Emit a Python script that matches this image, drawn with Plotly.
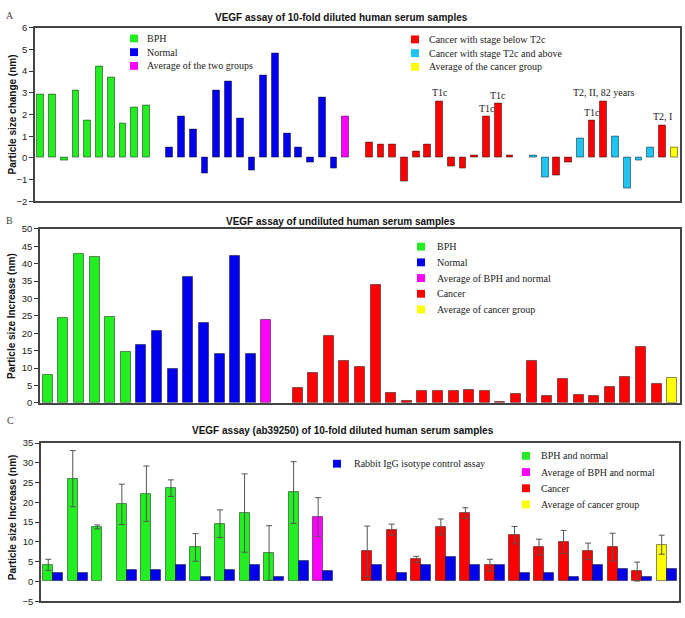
import plotly.graph_objects as go

W, H = 685, 618

# ---------------- Panel A data ----------------
a_bph = [2.9, 2.9, -0.1, 3.1, 1.7, 4.2, 3.7, 1.6, 2.3, 2.4]
a_normal = [0.5, 1.9, 1.3, -0.7, 3.1, 3.5, 1.8, -0.6, 3.8, 4.8, 1.1, 0.5, -0.2, 2.8, -0.5]
a_avg_two_groups = 1.9
a_cancer_1 = [0.7, 0.6, 0.6, -1.1, 0.3, 0.6, 2.6, -0.4, -0.5, 0.1, 1.9, 2.5, 0.1]
a_cancer_1_stage = ["low"] * 13
a_cancer_1_note = ["", "", "", "", "", "", "T1c", "", "", "", "T1c", "T1c", ""]
a_cancer_2 = [0.1, -0.9, -0.8, -0.2, 0.9, 1.7, 2.6, 1.0, -1.4, -0.1, 0.5, 1.5]
a_cancer_2_stage = ["high", "high", "low", "low", "high", "low", "low", "high", "high", "high", "high", "low"]
a_cancer_2_note = ["", "", "", "", "", "T1c", "T2, II, 82 years", "", "", "", "", "T2, I"]
a_avg_cancer = 0.5

# ---------------- Panel B data ----------------
b_bph = [8.1, 24.4, 42.9, 41.9, 24.7, 14.7]
b_normal = [16.5, 20.6, 9.6, 36.1, 22.9, 14.1, 42.1, 14.0]
b_avg_bph_normal = 23.7
b_cancer = [4.2, 8.7, 19.2, 11.9, 10.4, 33.9, 2.8, 0.6, 3.3, 3.3, 3.5, 3.7, 3.4, 0.3,
            2.5, 11.9, 2.0, 6.8, 2.3, 2.0, 4.6, 7.5, 16.1, 5.5]
b_avg_cancer = 7.2

# ---------------- Panel C data ----------------
c_bph_normal = [4.2, 26.0, 13.8, 19.5, 22.2, 23.6, 8.6, 14.6, 17.3, 7.2, 22.5]
c_bph_normal_err = [1.4, 7.1, 0.5, 5.1, 7.0, 2.1, 3.5, 3.5, 9.9, 6.9, 7.8]
c_bph_normal_ctrl = [2.0, 2.0, None, 3.0, 3.0, 4.1, 1.2, 3.0, 4.1, 1.2, 5.1]
c_avg_bph_normal, c_avg_bph_normal_err, c_avg_bph_normal_ctrl = 16.3, 4.9, 2.7
c_cancer = [7.6, 13.1, 5.6, 13.8, 17.3, 4.1, 11.7, 8.7, 10.0, 7.6, 8.7, 2.5]
c_cancer_err = [6.4, 1.4, 0.75, 2.0, 1.35, 1.5, 2.2, 2.0, 2.9, 2.1, 3.5, 2.4]
c_cancer_ctrl = [4.1, 2.2, 4.1, 6.1, 4.1, 4.1, 2.2, 2.2, 1.2, 4.1, 3.1, 1.2]
c_avg_cancer, c_avg_cancer_err, c_avg_cancer_ctrl = 9.3, 2.4, 3.1

COL = {
    "bph": "#22ee22", "normal": "#0000ee", "avg_bn": "#ff00ff",
    "low": "#ff0000", "high": "#1ec4f2", "avg_c": "#ffff00", "ctrl": "#0000ee",
}
EDGE = dict(color="rgba(0,0,0,0.45)", width=1)
SERIF = "Liberation Serif"
SANS = "Arial, Liberation Sans"


def px(x):
    return x / W


def py(y):
    return 1 - y / H


fig = go.Figure()

# ---- Panel A slots ----
a_slots = [(v, "bph", "") for v in a_bph] + [None]
a_slots += [(v, "normal", "") for v in a_normal]
a_slots += [(a_avg_two_groups, "avg_bn", ""), None]
a_slots += list(zip(a_cancer_1, a_cancer_1_stage, a_cancer_1_note)) + [None]
a_slots += list(zip(a_cancer_2, a_cancer_2_stage, a_cancer_2_note))
a_slots += [(a_avg_cancer, "avg_c", "")]

annotations = []
for kind in ["bph", "normal", "avg_bn", "low", "high", "avg_c"]:
    xs = [i for i, s in enumerate(a_slots) if s and s[1] == kind]
    ys = [a_slots[i][0] for i in xs]
    fig.add_trace(go.Bar(x=xs, y=ys, width=0.58, marker=dict(color=COL[kind], line=EDGE),
                         xaxis="x", yaxis="y", showlegend=False))
for i, s in enumerate(a_slots):
    if s and s[2]:
        annotations.append(dict(x=i, y=s[0], xref="x", yref="y", text=s[2], showarrow=False,
                                yanchor="bottom", yshift=1,
                                font=dict(family=SERIF, size=10, color="#222")))

# ---- Panel B slots ----
b_slots = [(v, "bph") for v in b_bph] + [(v, "normal") for v in b_normal]
b_slots += [(b_avg_bph_normal, "avg_bn"), None]
b_slots += [(v, "low") for v in b_cancer] + [(b_avg_cancer, "avg_c")]
for kind in ["bph", "normal", "avg_bn", "low", "avg_c"]:
    xs = [i for i, s in enumerate(b_slots) if s and s[1] == kind]
    ys = [b_slots[i][0] for i in xs]
    fig.add_trace(go.Bar(x=xs, y=ys, width=0.64, marker=dict(color=COL[kind], line=EDGE),
                         xaxis="x2", yaxis="y2", showlegend=False))

# ---- Panel C slots ----
c_slots = [(v, e, c, "bph") for v, e, c in zip(c_bph_normal, c_bph_normal_err, c_bph_normal_ctrl)]
c_slots += [(c_avg_bph_normal, c_avg_bph_normal_err, c_avg_bph_normal_ctrl, "avg_bn"), None]
c_slots += [(v, e, c, "low") for v, e, c in zip(c_cancer, c_cancer_err, c_cancer_ctrl)]
c_slots += [(c_avg_cancer, c_avg_cancer_err, c_avg_cancer_ctrl, "avg_c")]
for kind in ["bph", "avg_bn", "low", "avg_c"]:
    xs = [i for i, s in enumerate(c_slots) if s and s[3] == kind]
    fig.add_trace(go.Bar(x=xs, y=[c_slots[i][0] for i in xs], width=0.41, offset=-0.41,
                         marker=dict(color=COL[kind], line=EDGE),
                         error_y=dict(type="data", array=[c_slots[i][1] for i in xs],
                                      color="#555", thickness=1, width=3),
                         xaxis="x3", yaxis="y3", showlegend=False))
xs = [i for i, s in enumerate(c_slots) if s]
fig.add_trace(go.Bar(x=xs, y=[c_slots[i][2] for i in xs], width=0.41, offset=0,
                     marker=dict(color=COL["ctrl"], line=EDGE),
                     xaxis="x3", yaxis="y3", showlegend=False))

# ---- Axes ----
frame = dict(showline=True, mirror=True, linecolor="#444", linewidth=1.5)
tickfont = dict(family=SANS, size=9.5, color="#222")


def xax(dom, n):
    return dict(domain=dom, range=[-0.5, n - 0.5], showticklabels=False, ticks="",
                showgrid=False, zeroline=False, fixedrange=True, **frame)


def yax(dom, rng, dtick, anchor):
    return dict(domain=dom, range=rng, dtick=dtick, ticks="outside", ticklen=4, tickcolor="#333",
                tickfont=tickfont, showgrid=False, zeroline=False, anchor=anchor, **frame)


layout = dict(
    width=W, height=H, margin=dict(l=0, r=0, t=0, b=0),
    paper_bgcolor="white", plot_bgcolor="white", barmode="overlay", bargap=0,
    xaxis=xax([px(35), px(680)], len(a_slots)),
    yaxis=yax([py(199), py(22)], [-2, 6], 1, "x"),
    xaxis2=xax([px(40), px(680)], len(b_slots)),
    yaxis2=yax([py(404), py(227)], [0, 50], 5, "x2"),
    xaxis3=xax([px(41), px(679)], len(c_slots)),
    yaxis3=yax([py(606), py(445)], [-5, 35], 5, "x3"),
)
layout["xaxis"]["anchor"] = "y"
layout["xaxis2"]["anchor"] = "y2"
layout["xaxis3"]["anchor"] = "y3"


def ann_px(x, y, text, font, xanchor="center", yanchor="middle", angle=0):
    annotations.append(dict(x=px(x), y=py(y), xref="paper", yref="paper", text=text,
                            showarrow=False, xanchor=xanchor, yanchor=yanchor,
                            textangle=angle, font=font))


title_font = dict(family=SANS, size=10, color="#111")
ann_px(341.5, 12, "<b>VEGF assay of 10-fold diluted human serum samples</b>", title_font)
ann_px(340, 219, "<b>VEGF assay of undiluted human serum samples</b>", title_font)
ann_px(343, 432, "<b>VEGF assay (ab39250) of 10-fold diluted human serum samples</b>", title_font)

letter_font = dict(family=SERIF, size=10, color="#444")
ann_px(4, 10, "A", letter_font, xanchor="left")
ann_px(4, 218, "B", letter_font, xanchor="left")
ann_px(5, 422, "C", letter_font, xanchor="left")

ytitle_font = dict(family=SANS, size=10, color="#111")
ann_px(12.5, 111, "<b>Particle size change (nm)</b>", ytitle_font, angle=-90)
ann_px(11.5, 316, "<b>Particle size Increase (nm)</b>", ytitle_font, angle=-90)
ann_px(12.5, 521, "<b>Particle size Increase (nm)</b>", ytitle_font, angle=-90)

# ---- Legends (square swatches + serif text) ----
legend_font = dict(family=SERIF, size=10, color="#222")
shapes = []


def legend_block(x_sq, x_txt, ys, items):
    for y, (kind, label) in zip(ys, items):
        shapes.append(dict(type="rect", xref="paper", yref="paper",
                           x0=px(x_sq), x1=px(x_sq + 8), y0=py(y + 4), y1=py(y - 4),
                           fillcolor=COL[kind], line=dict(width=0)))
        ann_px(x_txt, y, label, legend_font, xanchor="left")


legend_block(130, 145, [33, 47, 61],
             [("bph", "BPH"), ("normal", "Normal"), ("avg_bn", "Average of the two groups")])
legend_block(411, 427, [34, 48, 62],
             [("low", "Cancer with stage below T2c"), ("high", "Cancer with stage T2c and above"),
              ("avg_c", "Average of the cancer group")])
legend_block(417, 435, [245, 261, 277, 293, 309],
             [("bph", "BPH"), ("normal", "Normal"), ("avg_bn", "Average of BPH and normal"),
              ("low", "Cancer"), ("avg_c", "Average of cancer group")])
legend_block(333, 352, [466], [("ctrl", "Rabbit IgG isotype control assay")])
legend_block(522, 539, [458, 474.5, 491, 507.5],
             [("bph", "BPH and normal"), ("avg_bn", "Average of BPH and normal"),
              ("low", "Cancer"), ("avg_c", "Average of cancer group")])

layout["annotations"] = annotations
layout["shapes"] = shapes
fig.update_layout(**layout)
fig.write_html(
    "out.html",
    config={"displayModeBar": False},
    post_script="document.body.style.margin='0px';document.body.style.overflow='hidden';",
)
